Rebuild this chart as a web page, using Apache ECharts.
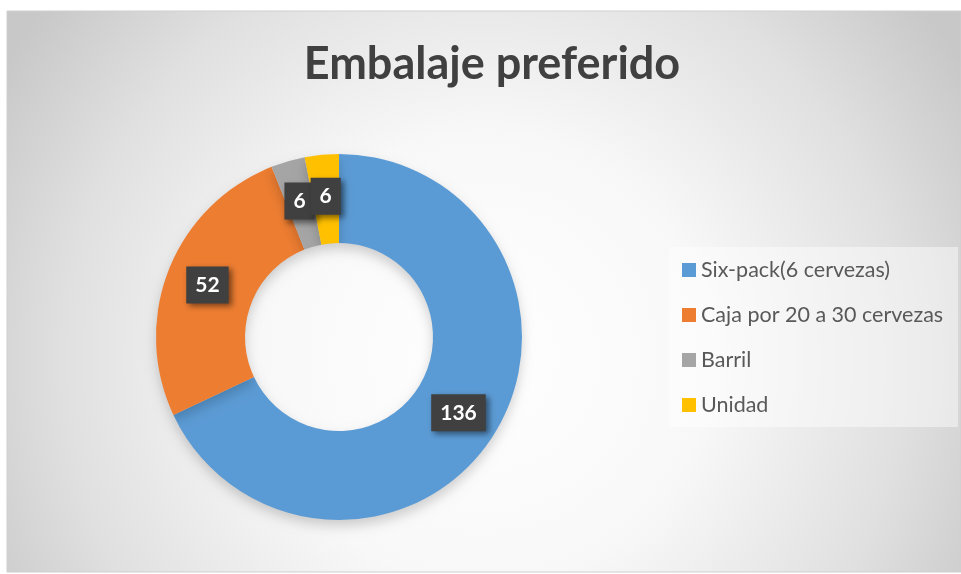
<!DOCTYPE html>
<html>
<head>
<meta charset="utf-8">
<script src="https://cdn.jsdelivr.net/npm/echarts@6/dist/echarts.min.js"></script>
<style>
  html,body{margin:0;padding:0;background:#fff;}
  #chart{width:961px;height:574px;}
</style>
</head>
<body>
<div id="chart"></div>
<script>
const categories = ['Six-pack(6 cervezas)', 'Caja por 20 a 30 cervezas', 'Barril', 'Unidad'];
const values = [136, 52, 6, 6];
const colors = ['#5B9BD5', '#ED7D31', '#A5A5A5', '#FFC000'];

const myChart = echarts.init(document.getElementById('chart'));

const pieData = categories.map((name, i) => ({ name: name, value: values[i], itemStyle: { color: colors[i] } }));

myChart.setOption({
    animation: false,
    title: {
        text: 'Embalaje preferido',
        left: 492,
        textAlign: 'center',
        top: 42,
        padding: 0,
        textStyle: { fontFamily: 'Lato', fontWeight: 'bold', fontSize: 45, lineHeight: 45, color: '#404040' }
    },
    graphic: [
        {
            type: 'rect', z: -10, silent: true,
            shape: { x: 7, y: 11, width: 954, height: 561 },
            style: {
                fill: { type: 'radial', x: 0.5, y: 0.62, r: 1.0,
                    colorStops: [ { offset: 0, color: '#ffffff' }, { offset: 0.4, color: '#f8f8f8' }, { offset: 0.75, color: '#e0e0e0' }, { offset: 1, color: '#c8c8c8' } ] },
                stroke: '#cfcfcf', lineWidth: 1
            }
        },
        {
            type: 'rect', z: -5, silent: true,
            shape: { x: 669, y: 247, width: 289, height: 180 },
            style: { fill: 'rgba(255,255,255,0.45)' }
        }
    ],
    legend: {
        orient: 'vertical',
        left: 682,
        top: 259,
        padding: 0,
        itemWidth: 14,
        itemHeight: 14,
        itemGap: 23,
        icon: 'rect',
        data: categories,
        textStyle: { fontFamily: 'Lato', fontSize: 21.5, lineHeight: 22, color: '#595959' }
    },
    series: [{
        type: 'pie',
        center: [339, 337],
        radius: [94, 183],
        startAngle: 90,
        clockwise: true,
        avoidLabelOverlap: false,
        labelLayout: { hideOverlap: false },
        itemStyle: { shadowBlur: 12, shadowOffsetY: 6, shadowColor: 'rgba(0,0,0,0.18)' },
        label: {
            show: true,
            position: 'inside',
            formatter: '{c}',
            color: '#fff',
            fontFamily: 'Lato',
            fontWeight: 'bold',
            fontSize: 21,
            lineHeight: 21,
            backgroundColor: '#404040',
            padding: [8, 9],
            shadowColor: 'rgba(0,0,0,0.5)',
            shadowBlur: 6,
            shadowOffsetX: 3,
            shadowOffsetY: 3
        },
        labelLine: { show: false },
        emphasis: { disabled: true },
        data: pieData
    }]
});

window.addEventListener('resize', () => myChart.resize());
</script>
</body>
</html>
